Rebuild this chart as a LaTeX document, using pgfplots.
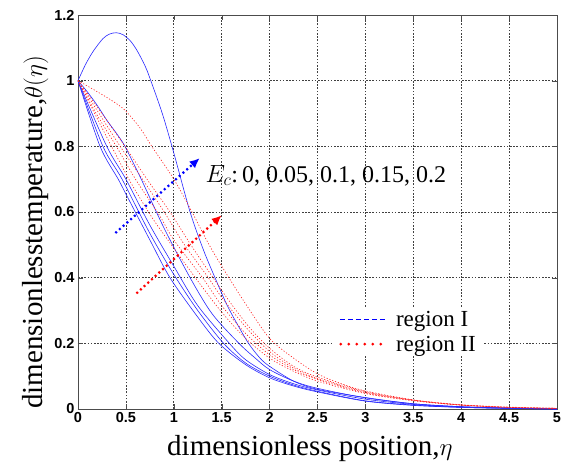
\documentclass[border=0pt]{standalone}
\usepackage{fontspec}
\setmainfont{Liberation Serif}
\newfontfamily\tickfont{Liberation Sans}
\usepackage{pgfplots}
\pgfplotsset{compat=1.18}
\usetikzlibrary{arrows.meta}
\definecolor{cblue}{RGB}{40,40,255}
\definecolor{cred}{RGB}{255,30,30}
\begin{document}
\begin{tikzpicture}
\useasboundingbox (-78pt,-58pt) rectangle (485pt,409pt);
\begin{axis}[
  scale only axis, width=479pt, height=394pt,
  xmin=0, xmax=5, ymin=0, ymax=1.2,
  xtick={0,0.5,1,1.5,2,2.5,3,3.5,4,4.5,5},
  ytick={0,0.2,0.4,0.6,0.8,1,1.2},
  grid=major,
  major grid style={black!75, dash pattern=on 1.6pt off 1.6pt, line width=0.6pt},
  axis line style={black!70, line width=0.7pt},
  tick style={black!70},
  major tick length=5pt,
  tick label style={font=\fontsize{14.5}{14.5}\selectfont\tickfont\bfseries},
  /pgf/number format/assume math mode=true,
  every axis x label/.style={at={(axis description cs:0.484,-0.117)},anchor=base},
  every axis y label/.style={at={(axis description cs:-0.075,0.448)},rotate=90,anchor=base},
  label style={font=\fontsize{29}{34}\selectfont},
  xlabel={dimensionless position,$\eta$},
  ylabel={dimensionlesstemperature,$\theta(\eta)$},
  legend style={at={(axis description cs:0.532,0.258)}, anchor=north west, draw=none, fill=white,
    font=\fontsize{23}{27}\selectfont, inner xsep=6pt, inner ysep=3pt,
    nodes={inner ysep=0.5pt}, row sep=7pt},
  legend cell align=left,
]
% region I (blue)
\addplot[cblue, line width=0.6pt, smooth, forget plot] coordinates {
(0,1) (0.23,0.80) (0.42,0.70) (0.5,0.655) (0.75,0.515) (0.96,0.40) (1.25,0.28) (1.47,0.20) (1.75,0.135) (2,0.095) (2.25,0.07) (2.5,0.052) (3,0.024) (3.5,0.011) (4,0.005) (4.5,0.002) (5,0)};
\addplot[cblue, line width=0.6pt, smooth, forget plot] coordinates {
(0,1) (0.26,0.80) (0.46,0.70) (0.75,0.535) (1,0.41) (1.25,0.30) (1.52,0.20) (1.75,0.14) (2,0.10) (2.25,0.073) (2.5,0.054) (3,0.025) (3.5,0.012) (4,0.005) (4.5,0.002) (5,0)};
\addplot[cblue, line width=0.6pt, smooth, forget plot] coordinates {
(0,1) (0.30,0.80) (0.50,0.70) (0.75,0.56) (1,0.435) (1.25,0.315) (1.58,0.20) (1.75,0.15) (2,0.105) (2.25,0.077) (2.5,0.058) (3,0.03) (3.5,0.014) (4,0.006) (4.5,0.002) (5,0)};
\addplot[cblue, line width=0.6pt, smooth, forget plot] coordinates {
(0,1) (0.1,0.965) (0.2,0.925) (0.3,0.88) (0.4,0.84) (0.49,0.80) (0.66,0.70) (0.9,0.55) (1.17,0.40) (1.4,0.29) (1.68,0.20) (1.85,0.155) (2,0.12) (2.25,0.085) (2.5,0.063) (3,0.034) (3.5,0.016) (4,0.007) (4.5,0.003) (5,0)};
\addplot[cblue, line width=0.6pt, smooth, forget plot] coordinates {
(0,1) (0.08,1.05) (0.16,1.09) (0.26,1.128) (0.33,1.142) (0.4,1.146) (0.47,1.14) (0.55,1.12) (0.62,1.09) (0.7,1.045) (0.75,1.008) (0.88,0.90) (1,0.78) (1.17,0.60) (1.31,0.484) (1.43,0.40) (1.55,0.32) (1.65,0.265) (1.78,0.20) (1.9,0.155) (2,0.13) (2.25,0.085) (2.5,0.06) (3,0.035) (3.5,0.016) (4,0.007) (4.5,0.003) (5,0)};
% region II (red)
\addplot[cred, line width=0.6pt, dash pattern=on 1.2pt off 1.8pt, smooth, forget plot] coordinates {
(0,1) (0.2,0.885) (0.35,0.80) (0.55,0.69) (0.78,0.58) (1,0.49) (1.25,0.39) (1.5,0.295) (1.75,0.215) (2,0.155) (2.25,0.115) (2.5,0.085) (3,0.047) (3.5,0.025) (4,0.012) (4.5,0.005) (5,0.002)};
\addplot[cred, line width=0.6pt, dash pattern=on 1.2pt off 1.8pt, smooth, forget plot] coordinates {
(0,1) (0.2,0.895) (0.4,0.80) (0.6,0.70) (0.85,0.59) (1,0.515) (1.3,0.40) (1.5,0.315) (1.75,0.23) (2,0.165) (2.25,0.12) (2.5,0.09) (3,0.049) (3.5,0.026) (4,0.012) (4.5,0.005) (5,0.002)};
\addplot[cred, line width=0.6pt, dash pattern=on 1.2pt off 1.8pt, smooth, forget plot] coordinates {
(0,1) (0.22,0.90) (0.44,0.80) (0.65,0.71) (0.9,0.60) (1.1,0.505) (1.36,0.40) (1.5,0.34) (1.75,0.25) (2,0.175) (2.25,0.125) (2.5,0.093) (3,0.051) (3.5,0.027) (4,0.012) (4.5,0.005) (5,0.002)};
\addplot[cred, line width=0.6pt, dash pattern=on 1.2pt off 1.8pt, smooth, forget plot] coordinates {
(0,1) (0.25,0.90) (0.49,0.80) (0.72,0.70) (0.96,0.60) (1.2,0.49) (1.41,0.40) (1.6,0.32) (1.8,0.245) (2,0.185) (2.25,0.13) (2.5,0.097) (3,0.053) (3.5,0.027) (4,0.012) (4.5,0.005) (5,0.002)};
\addplot[cred, line width=0.6pt, dash pattern=on 1.2pt off 1.8pt, smooth, forget plot] coordinates {
(0,1) (0.18,0.97) (0.35,0.94) (0.49,0.91) (0.65,0.855) (0.77,0.80) (1,0.70) (1.19,0.60) (1.35,0.51) (1.5,0.435) (1.75,0.32) (2,0.215) (2.25,0.155) (2.5,0.107) (2.75,0.077) (3,0.055) (3.5,0.028) (4,0.013) (4.5,0.006) (5,0.002)};
% annotation arrows
\addplot[blue, line width=2.2pt, dash pattern=on 2pt off 3pt, -{Latex[length=10pt,width=9pt]}, forget plot] coordinates {(0.39,0.536) (1.27,0.764)};
\addplot[red, line width=2.2pt, dash pattern=on 2pt off 3pt, -{Latex[length=10pt,width=9pt]}, forget plot] coordinates {(0.61,0.352) (1.5,0.59)};
\node[anchor=base west, font=\fontsize{24}{28}\selectfont, inner sep=0pt] at (axis cs:1.33,0.691) {$E_c$:\,0, 0.05, 0.1, 0.15, 0.2};
% legend
\addlegendimage{legend image code/.code={\draw[blue, line width=1.6pt, dash pattern=on 5pt off 3pt] (0pt,0pt) -- (47pt,0pt); \path (54pt,0pt);}}
\addlegendentry{region I}
\addlegendimage{legend image code/.code={\draw[red, line width=3pt, line cap=round, dash pattern=on 0pt off 8pt] (1pt,0pt) -- (42pt,0pt); \path (54pt,0pt);}}
\addlegendentry{region II}
\end{axis}
\end{tikzpicture}
\end{document}
